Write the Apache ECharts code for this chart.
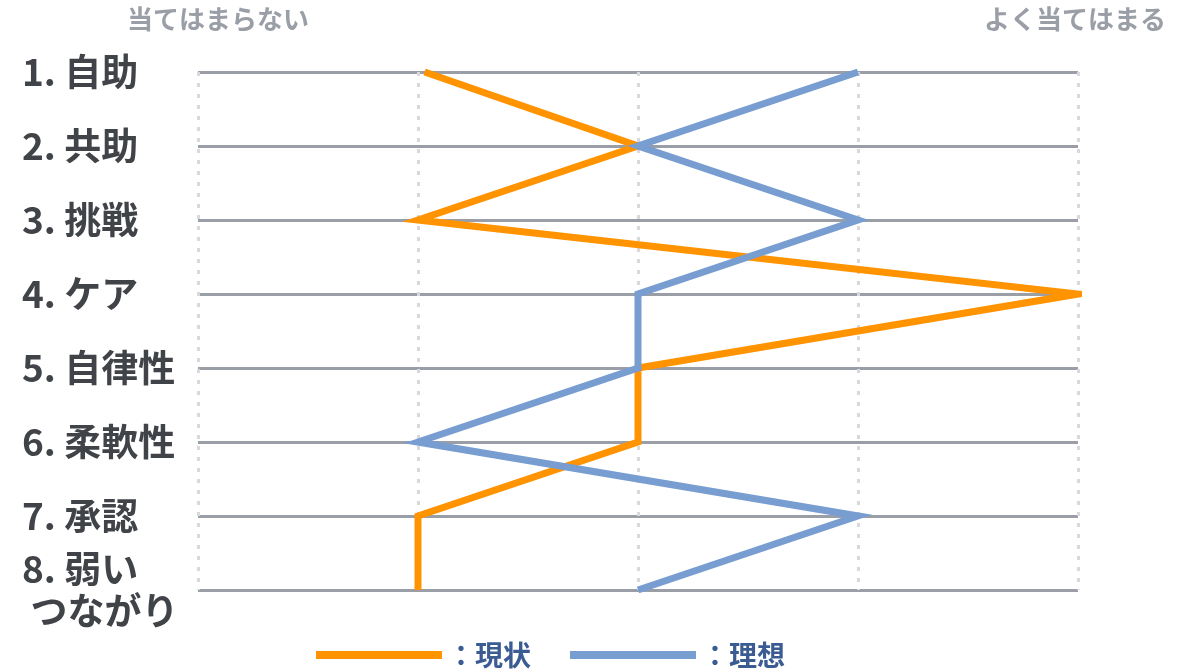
<!DOCTYPE html>
<html>
<head>
<meta charset="utf-8">
<script src="https://cdn.jsdelivr.net/npm/echarts@6/dist/echarts.min.js"></script>
<style>
  html, body { margin: 0; padding: 0; background: #ffffff; }
  #chart { width: 1198px; height: 672px; }
</style>
</head>
<body>
<div id="chart"></div>
<script>
// Survey items, top to bottom
const categories = ['1. 自助', '2. 共助', '3. 挑戦', '4. ケア', '5. 自律性', '6. 柔軟性', '7. 承認', '8. 弱い\n つながり'];
// Scale 1 (当てはまらない) … 5 (よく当てはまる)
const currentValues = [2.03, 3, 2, 5, 3, 3, 2, 2];   // 現状
const idealValues   = [4, 3, 4, 3, 3, 2, 4, 3];      // 理想
const scaleMin = 1, scaleMax = 5;
const scaleLowLabel = '当てはまらない';
const scaleHighLabel = 'よく当てはまる';
const seriesNames = ['：現状', '：理想'];

const FONT = '"Noto Sans CJK JP", "Noto Sans", sans-serif';
const ORANGE = '#ff9300';
const BLUE = '#789dd0';

const chart = echarts.init(document.getElementById('chart'), null, { renderer: 'canvas' });

function toPoints(values) {
  return values.map((v, i) => [v, categories[i]]);
}

chart.setOption({
  animation: false,
  backgroundColor: '#ffffff',
  textStyle: { fontFamily: FONT },
  grid: { left: 198, right: 120, top: 72, bottom: 82, containLabel: false },
  xAxis: {
    type: 'value',
    min: scaleMin,
    max: scaleMax,
    interval: 1,
    axisLine: { show: false },
    axisTick: { show: false },
    axisLabel: { show: false },
    splitLine: {
      show: true,
      lineStyle: { color: '#d8d8dd', width: 3, type: [4, 7] }
    }
  },
  yAxis: {
    type: 'category',
    inverse: true,
    boundaryGap: false,
    data: categories,
    axisLine: { show: false },
    axisTick: { show: false },
    axisLabel: {
      align: 'left',
      margin: 176,
      fontFamily: FONT,
      fontSize: 37,
      fontWeight: 'bold',
      color: '#404348',
      lineHeight: 42
    },
    splitLine: {
      show: true,
      lineStyle: { color: '#9a9ea6', width: 3 }
    }
  },
  legend: {
    bottom: 3,
    left: 316,
    padding: 0,
    itemWidth: 126,
    itemHeight: 8,
    itemGap: 39,
    icon: 'rect',
    textStyle: {
      fontFamily: FONT,
      fontSize: 28,
      fontWeight: 'bold',
      color: '#3b5c93'
    },
    data: seriesNames
  },
  graphic: [
    {
      type: 'text',
      left: 127, top: 6,
      style: { text: scaleLowLabel, font: 'bold 26px ' + FONT, fill: '#9a9ea6' }
    },
    {
      type: 'text',
      right: 32, top: 6,
      style: { text: scaleHighLabel, font: 'bold 26px ' + FONT, fill: '#9a9ea6' }
    }
  ],
  series: [
    {
      name: seriesNames[0],
      type: 'line',
      data: toPoints(currentValues),
      symbol: 'none',
      color: ORANGE,
      lineStyle: { color: ORANGE, width: 7, join: 'miter', cap: 'butt' },
      z: 3
    },
    {
      name: seriesNames[1],
      type: 'line',
      data: toPoints(idealValues),
      symbol: 'none',
      color: BLUE,
      lineStyle: { color: BLUE, width: 7, join: 'miter', cap: 'butt' },
      z: 4
    }
  ]
});
</script>
</body>
</html>
